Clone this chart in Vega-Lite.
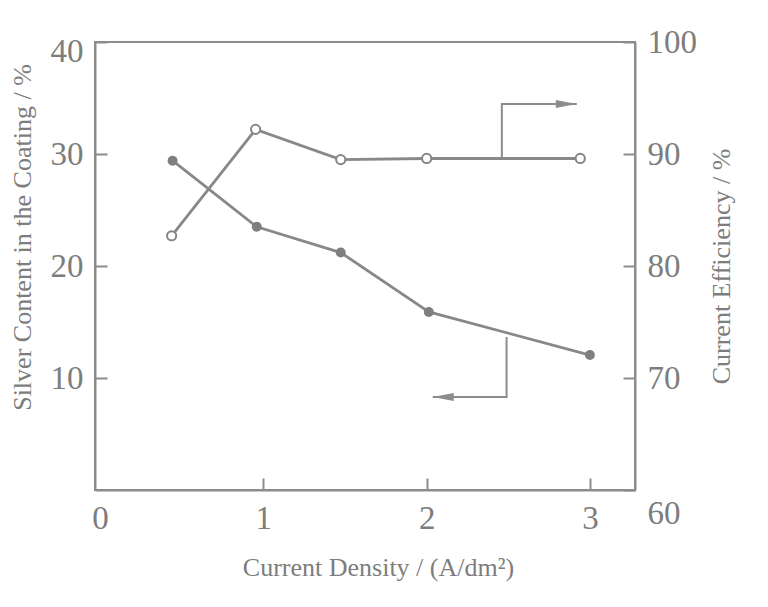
{
  "$schema": "https://vega.github.io/schema/vega-lite/v6.json",
  "width": 540,
  "height": 448,
  "autosize": {"type": "none"},
  "padding": {"left": 95, "top": 42, "right": 133, "bottom": 117},
  "background": "white",
  "datasets": {
    "silver": [
      {"density": 0.445, "value": 29.4},
      {"density": 0.96, "value": 23.5},
      {"density": 1.474, "value": 21.2},
      {"density": 2.013, "value": 15.9},
      {"density": 2.999, "value": 12.05}
    ],
    "efficiency": [
      {"density": 0.439, "value": 82.7},
      {"density": 0.953, "value": 92.2},
      {"density": 1.474, "value": 89.5},
      {"density": 2.0, "value": 89.6},
      {"density": 2.94, "value": 89.6}
    ],
    "arrows": [
      {"arrow": "right", "seq": 1, "density": 2.46, "value": 29.64},
      {"arrow": "right", "seq": 2, "density": 2.46, "value": 34.46},
      {"arrow": "right", "seq": 3, "density": 2.919, "value": 34.46},
      {"arrow": "left", "seq": 1, "density": 2.489, "value": 13.66},
      {"arrow": "left", "seq": 2, "density": 2.489, "value": 8.3},
      {"arrow": "left", "seq": 3, "density": 2.037, "value": 8.3}
    ]
  },
  "config": {
    "font": "Liberation Serif",
    "view": {"stroke": "#8c8c8c", "strokeWidth": 2},
    "axis": {
      "grid": false,
      "domainColor": "#8c8c8c",
      "domainWidth": 2,
      "tickColor": "#8c8c8c",
      "tickWidth": 2,
      "tickSize": -12,
      "labelFont": "Liberation Serif",
      "labelFontSize": 33,
      "labelColor": "#7d7d7d",
      "titleFont": "Liberation Serif",
      "titleFontSize": 26,
      "titleFontWeight": "normal",
      "titleColor": "#7d7d7d"
    }
  },
  "layer": [
    {
      "encoding": {
        "x": {
          "field": "density",
          "type": "quantitative",
          "scale": {"domain": [-0.03, 3.275], "nice": false, "zero": false},
          "axis": {
            "title": "Current Density / (A/dm²)",
            "values": [0, 1, 2, 3],
            "format": "d",
            "labelFlush": false,
            "labelPadding": 24,
            "tickColor": {"condition": {"test": "datum.value == 0", "value": "transparent"}, "value": "#8c8c8c"},
            "titleX": 283,
            "titleY": 77,
            "titleBaseline": "middle"
          }
        },
        "y": {
          "field": "value",
          "type": "quantitative",
          "scale": {"domain": [0, 40], "nice": false},
          "axis": {
            "orient": "left",
            "title": "Silver Content in the Coating / %",
            "values": [10, 20, 30, 40],
            "labelFlush": false,
            "labelPadding": 24,
            "labelOffset": {"condition": {"test": "datum.value == 40", "value": 9}, "value": 0},
            "titleX": -73,
            "titleY": 195,
            "titleAngle": -90,
            "titleAlign": "center",
            "titleBaseline": "middle"
          }
        }
      },
      "layer": [
        {
          "data": {"name": "silver"},
          "mark": {"type": "line", "color": "#888888", "strokeWidth": 2.8},
          "encoding": {}
        },
        {
          "data": {"name": "silver"},
          "mark": {"type": "point", "shape": "circle", "filled": true, "color": "#7f7f7f", "size": 100, "opacity": 1},
          "encoding": {}
        },
        {
          "data": {"name": "arrows"},
          "mark": {"type": "line", "color": "#8c8c8c", "strokeWidth": 2},
          "encoding": {
            "detail": {"field": "arrow"},
            "order": {"field": "seq"}
          }
        },
        {
          "data": {"name": "arrows"},
          "transform": [{"filter": "datum.seq == 3"}],
          "mark": {"type": "point", "filled": true, "color": "#8c8c8c", "size": 441, "opacity": 1},
          "encoding": {
            "shape": {
              "field": "arrow",
              "type": "nominal",
              "scale": {"domain": ["right", "left"], "range": ["M0,0L-2,-0.38L-2,0.38Z", "M0,0L2,-0.38L2,0.38Z"]},
              "legend": null
            }
          }
        }
      ]
    },
    {
      "data": {"name": "efficiency"},
      "encoding": {
        "x": {"field": "density", "type": "quantitative"},
        "y": {
          "field": "value",
          "type": "quantitative",
          "scale": {"domain": [60, 100], "nice": false, "zero": false},
          "axis": {
            "orient": "right",
            "title": "Current Efficiency / %",
            "values": [60, 70, 80, 90, 100],
            "labelFlush": false,
            "labelPadding": 24,
            "labelOffset": {"condition": {"test": "datum.value == 60", "value": 23}, "value": 0},
            "titleX": 86,
            "titleY": 224,
            "titleAngle": -90,
            "titleAlign": "center",
            "titleBaseline": "middle"
          }
        }
      },
      "layer": [
        {
          "mark": {"type": "line", "color": "#888888", "strokeWidth": 2.8},
          "encoding": {}
        },
        {
          "mark": {"type": "point", "shape": "circle", "filled": true, "fill": "white", "stroke": "#858585", "strokeWidth": 2, "size": 85, "opacity": 1},
          "encoding": {}
        }
      ]
    }
  ],
  "resolve": {"scale": {"y": "independent"}}
}
